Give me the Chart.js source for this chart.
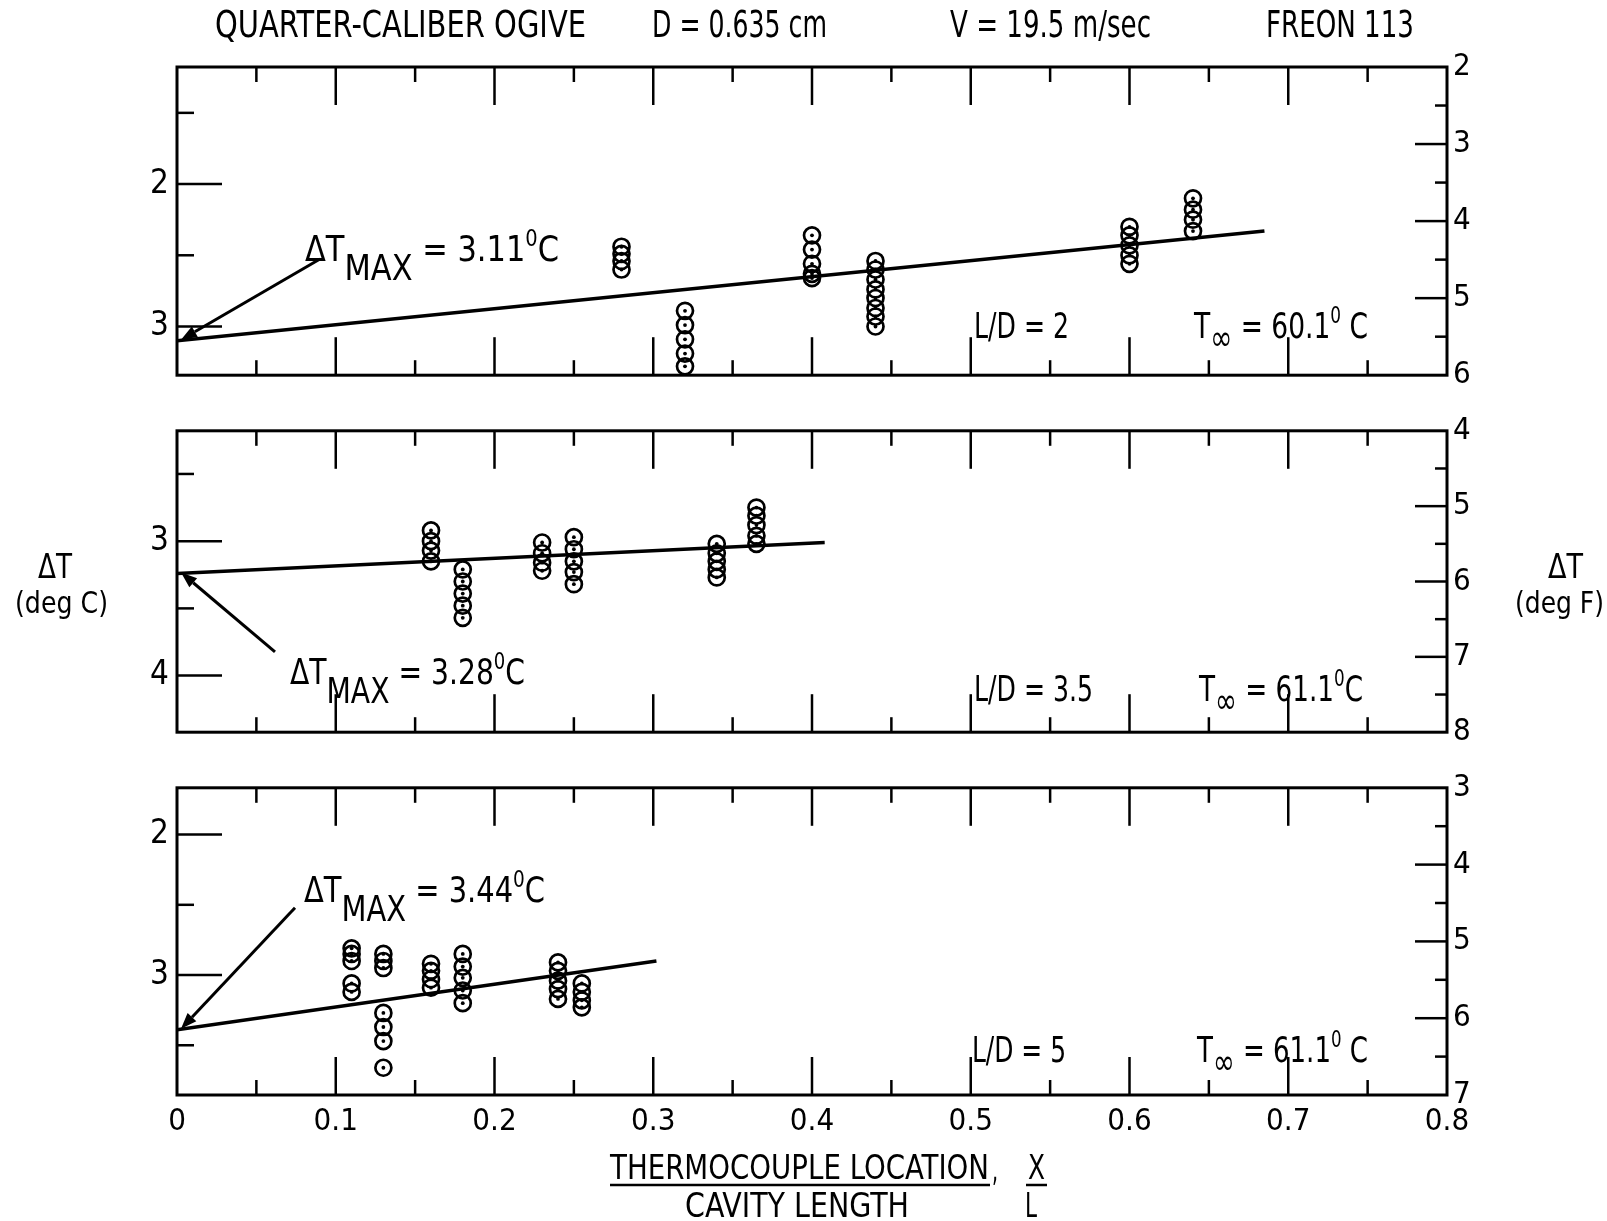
<!DOCTYPE html>
<html>
<head>
<meta charset="utf-8">
<script src="https://cdn.jsdelivr.net/npm/chart.js@4.4.0/dist/chart.umd.min.js"></script>
<style>
html, body { margin: 0; padding: 0; background: #fff; }
#wrap { position: relative; width: 1607px; height: 1221px; overflow: hidden; }
canvas { position: absolute; left: 0; }
</style>
</head>
<body>
<div id="wrap">
  <canvas id="p1" width="1607" height="403" style="top:0px"></canvas>
  <canvas id="p2" width="1607" height="357" style="top:403px"></canvas>
  <canvas id="p3" width="1607" height="461" style="top:760px"></canvas>
  <canvas id="overlay" width="1607" height="1221" style="top:0px;pointer-events:none"></canvas>
</div>
<script>
const FONT = '"Liberation Sans Narrow", "DejaVu Sans Condensed", "Arial Narrow", sans-serif';

// thermocouple location x/L and measured temperature depression (deg C)
const xLD2  = [0.28, 0.28, 0.28, 0.28,
               0.32, 0.32, 0.32, 0.32, 0.32,
               0.40, 0.40, 0.40, 0.40, 0.40,
               0.44, 0.44, 0.44, 0.44, 0.44, 0.44, 0.44, 0.44,
               0.60, 0.60, 0.60, 0.60, 0.60,
               0.64, 0.64, 0.64, 0.64];
const dtLD2 = [2.44, 2.49, 2.54, 2.60,
               2.89, 2.99, 3.09, 3.19, 3.28,
               2.36, 2.46, 2.56, 2.63, 2.66,
               2.54, 2.60, 2.67, 2.74, 2.80, 2.87, 2.93, 3.00,
               2.30, 2.36, 2.43, 2.50, 2.56,
               2.10, 2.18, 2.25, 2.33];
const fitXLD2 = [0, 0.685];
const fitYLD2 = [3.10, 2.33];

const xLD35  = [0.16, 0.16, 0.16, 0.16,
                0.18, 0.18, 0.18, 0.18, 0.18,
                0.23, 0.23, 0.23, 0.23,
                0.25, 0.25, 0.25, 0.25, 0.25,
                0.34, 0.34, 0.34, 0.34, 0.34,
                0.365, 0.365, 0.365, 0.365, 0.365];
const dtLD35 = [2.92, 3.00, 3.07, 3.15,
                3.21, 3.30, 3.39, 3.48, 3.57,
                3.01, 3.09, 3.16, 3.22,
                2.97, 3.06, 3.15, 3.23, 3.32,
                3.02, 3.09, 3.15, 3.21, 3.27,
                2.75, 2.81, 2.88, 2.96, 3.02];
const fitXLD35 = [0, 0.408];
const fitYLD35 = [3.24, 3.01];

const xLD5  = [0.11, 0.11, 0.11, 0.11, 0.11,
               0.13, 0.13, 0.13, 0.13, 0.13, 0.13, 0.13,
               0.16, 0.16, 0.16, 0.16,
               0.18, 0.18, 0.18, 0.18, 0.18,
               0.24, 0.24, 0.24, 0.24, 0.24,
               0.255, 0.255, 0.255, 0.255];
const dtLD5 = [2.81, 2.85, 2.90, 3.06, 3.12,
               2.85, 2.90, 2.95, 3.27, 3.37, 3.47, 3.66,
               2.92, 2.97, 3.03, 3.09,
               2.85, 2.94, 3.02, 3.11, 3.20,
               2.91, 2.97, 3.04, 3.10, 3.17,
               3.06, 3.12, 3.18, 3.23];
const fitXLD5 = [0, 0.302];
const fitYLD5 = [3.39, 2.90];

// axes
const xTickVals   = [0, 0.1, 0.2, 0.3, 0.4, 0.5, 0.6, 0.7, 0.8];
const xTickLabels = ['0', '0.1', '0.2', '0.3', '0.4', '0.5', '0.6', '0.7', '0.8'];
const cRangeLD2  = [1.178, 3.342], cTicksLD2  = [2, 3];
const fRangeLD2  = [2, 6],         fTicksLD2  = [2, 3, 4, 5, 6];
const cRangeLD35 = [2.179, 4.421], cTicksLD35 = [3, 4];
const fRangeLD35 = [4, 8],         fTicksLD35 = [4, 5, 6, 7, 8];
const cRangeLD5  = [1.667, 3.854], cTicksLD5  = [2, 3];
const fRangeLD5  = [3, 7],         fTicksLD5  = [3, 4, 5, 6, 7];

const pts = (xs, ys) => xs.map((x, i) => ({ x: x, y: ys[i] }));

// draws text pieces squeezed to a given width (the original lettering is very condensed)
function rich(ctx, parts, x, y, w, size) {
    let total = 0;
    parts.forEach(p => {
        ctx.font = Math.round((p.s || 1) * size) + 'px ' + FONT;
        p._w = ctx.measureText(p.t).width;
        total += p._w;
    });
    ctx.save();
    ctx.translate(x, y);
    ctx.scale(w / total, 1);
    ctx.fillStyle = '#000';
    ctx.textAlign = 'left';
    ctx.textBaseline = 'alphabetic';
    let cx = 0;
    parts.forEach(p => {
        ctx.font = Math.round((p.s || 1) * size) + 'px ' + FONT;
        ctx.fillText(p.t, cx, p.dy || 0);
        cx += p._w;
    });
    ctx.restore();
}

function seg(ctx, x1, y1, x2, y2) {
    ctx.beginPath(); ctx.moveTo(x1, y1); ctx.lineTo(x2, y2); ctx.stroke();
}

// frame plus inward tick marks on all four sides
const framePlugin = {
    id: 'frame',
    afterDraw(chart) {
        const { ctx, chartArea: a, scales } = chart;
        ctx.save();
        ctx.strokeStyle = '#000';
        ctx.lineWidth = 3;
        ctx.strokeRect(a.left, a.top, a.right - a.left, a.bottom - a.top);
        ctx.lineWidth = 2.5;
        for (let k = 1; k < 16; k++) {
            const px = scales.x.getPixelForValue(k * 0.05);
            const len = k % 2 === 0 ? 38 : 15;
            seg(ctx, px, a.top, px, a.top + len);
            seg(ctx, px, a.bottom, px, a.bottom - len);
        }
        const y = scales.y;
        for (let v = Math.ceil(y.min * 2) / 2; v < y.max; v += 0.5) {
            if (v <= y.min) continue;
            const py = y.getPixelForValue(v);
            seg(ctx, a.left, py, a.left + (Number.isInteger(v) ? 45 : 17), py);
        }
        const f = scales.yF;
        for (let v = Math.floor(f.min) + 0.5; v < f.max; v += 0.5) {
            const py = f.getPixelForValue(v);
            seg(ctx, a.right, py, a.right - (Number.isInteger(v) ? 32 : 12), py);
        }
        ctx.restore();
    }
};

// ΔT max arrow and panel labels
const notesPlugin = {
    id: 'notes',
    afterDraw(chart, args, o) {
        const { ctx, chartArea: a, scales } = chart;
        const first = chart.data.datasets[0].data[0];
        const tipX = scales.x.getPixelForValue(first.x) + 4;
        const tipY = scales.y.getPixelForValue(first.y) - 1;
        const tailX = a.left + o.arrow[0], tailY = a.top + o.arrow[1];
        ctx.save();
        ctx.strokeStyle = '#000';
        ctx.fillStyle = '#000';
        ctx.lineWidth = 3;
        const ang = Math.atan2(tipY - tailY, tipX - tailX);
        const hl = 16, hw = 6;
        const bx = tipX - hl * Math.cos(ang), by = tipY - hl * Math.sin(ang);
        seg(ctx, tailX, tailY, bx, by);
        ctx.beginPath();
        ctx.moveTo(tipX, tipY);
        ctx.lineTo(bx + hw * Math.sin(ang), by - hw * Math.cos(ang));
        ctx.lineTo(bx - hw * Math.sin(ang), by + hw * Math.cos(ang));
        ctx.closePath();
        ctx.fill();
        ctx.restore();
        o.texts.forEach(t => rich(ctx, t.parts, a.left + t.x, a.top + t.y, t.w, t.size));
    }
};

function makePanel(id, xs, ys, fitX, fitY, cRange, cTicks, fRange, fTicks, pad, showX, notes) {
    return new Chart(document.getElementById(id), {
        type: 'scatter',
        data: {
            datasets: [
                {
                    data: pts(fitX, fitY),
                    showLine: true,
                    borderColor: '#000',
                    borderWidth: 3.5,
                    pointRadius: 0,
                    tension: 0
                },
                {
                    data: pts(xs, ys),
                    pointRadius: 8,
                    pointBorderWidth: 2.7,
                    pointBorderColor: '#000',
                    pointBackgroundColor: 'rgba(0,0,0,0)'
                },
                {
                    data: pts(xs, ys),
                    pointRadius: 1.9,
                    pointBorderWidth: 0,
                    pointBackgroundColor: '#000'
                }
            ]
        },
        options: {
            responsive: false,
            animation: false,
            devicePixelRatio: 1,
            layout: { padding: { top: pad[0], bottom: pad[1], left: 0, right: 0 } },
            plugins: {
                legend: { display: false },
                tooltip: { enabled: false },
                notes: notes
            },
            scales: {
                x: {
                    type: 'linear', min: 0, max: 0.8,
                    display: showX,
                    grid: { display: false, drawTicks: false },
                    border: { display: false },
                    afterBuildTicks: s => { s.ticks = xTickVals.map(v => ({ value: v })); },
                    ticks: {
                        autoSkip: false, maxRotation: 0, padding: 8,
                        color: '#000', font: { family: FONT, size: 31 },
                        callback: (v, i) => xTickLabels[i]
                    },
                    afterFit: s => { if (showX) s.height = 126; }
                },
                y: {
                    type: 'linear', position: 'left', reverse: true,
                    min: cRange[0], max: cRange[1],
                    grid: { display: false, drawTicks: false },
                    border: { display: false },
                    afterBuildTicks: s => { s.ticks = cTicks.map(v => ({ value: v })); },
                    ticks: { padding: 8, color: '#000', font: { family: FONT, size: 33 }, callback: v => String(v) },
                    afterFit: s => { s.width = 177; }
                },
                yF: {
                    type: 'linear', position: 'right', reverse: true,
                    min: fRange[0], max: fRange[1],
                    grid: { display: false, drawTicks: false },
                    border: { display: false },
                    afterBuildTicks: s => { s.ticks = fTicks.map(v => ({ value: v })); },
                    ticks: { padding: 6, color: '#000', font: { family: FONT, size: 31 }, callback: v => String(v) },
                    afterFit: s => { s.width = 160; }
                }
            }
        },
        plugins: [framePlugin, notesPlugin]
    });
}

const dtMax = v => [{ t: 'ΔT' }, { t: 'MAX', dy: 19 }, { t: ' = ' + v }, { t: '0', dy: -15, s: 0.65 }, { t: 'C' }];
const tInf = (v, gap) => [{ t: 'T' }, { t: '∞', dy: 12 }, { t: ' = ' + v }, { t: '0', dy: -15, s: 0.65 }, { t: gap + 'C' }];

makePanel('p1', xLD2, dtLD2, fitXLD2, fitYLD2, cRangeLD2, cTicksLD2, fRangeLD2, fTicksLD2, [67, 20], false, {
    arrow: [143, 192],
    texts: [
        { parts: dtMax('3.11'), x: 128, y: 194, w: 254, size: 36 },
        { parts: [{ t: 'L/D = 2' }], x: 797, y: 271, w: 95, size: 36 },
        { parts: tInf('60.1', ' '), x: 1017, y: 271, w: 174, size: 36 }
    ]
});
makePanel('p2', xLD35, dtLD35, fitXLD35, fitYLD35, cRangeLD35, cTicksLD35, fRangeLD35, fTicksLD35, [20, 23], false, {
    arrow: [98, 221],
    texts: [
        { parts: dtMax('3.28'), x: 113, y: 253, w: 235, size: 36 },
        { parts: [{ t: 'L/D = 3.5' }], x: 797, y: 270, w: 119, size: 36 },
        { parts: tInf('61.1', ''), x: 1022, y: 270, w: 164, size: 36 }
    ]
});
makePanel('p3', xLD5, dtLD5, fitXLD5, fitYLD5, cRangeLD5, cTicksLD5, fRangeLD5, fTicksLD5, [20, 0], true, {
    arrow: [118, 120],
    texts: [
        { parts: dtMax('3.44'), x: 127, y: 114, w: 241, size: 36 },
        { parts: [{ t: 'L/D = 5' }], x: 795, y: 274, w: 94, size: 36 },
        { parts: tInf('61.1', ' '), x: 1020, y: 274, w: 171, size: 36 }
    ]
});

// page-level text: header, side titles, x-axis title
const oc = document.getElementById('overlay').getContext('2d');
rich(oc, [{ t: 'QUARTER-CALIBER OGIVE' }], 215, 37, 371, 37);
rich(oc, [{ t: 'D = 0.635 cm' }], 652, 37, 175, 37);
rich(oc, [{ t: 'V = 19.5 m/sec' }], 950, 37, 201, 37);
rich(oc, [{ t: 'FREON 113' }], 1266, 37, 148, 37);
rich(oc, [{ t: 'ΔT' }], 38, 578, 34, 33);
rich(oc, [{ t: '(deg C)' }], 15, 613, 93, 31);
rich(oc, [{ t: 'ΔT' }], 1548, 578, 35, 33);
rich(oc, [{ t: '(deg F)' }], 1515, 613, 89, 31);
rich(oc, [{ t: 'THERMOCOUPLE LOCATION' }], 610, 1179, 379, 34);
rich(oc, [{ t: ',' }], 992, 1181, 6, 34);
rich(oc, [{ t: 'X' }], 1028, 1179, 17, 34);
rich(oc, [{ t: 'CAVITY LENGTH' }], 685, 1217, 224, 34);
rich(oc, [{ t: 'L' }], 1025, 1217, 12, 34);
oc.strokeStyle = '#000';
oc.lineWidth = 2.5;
seg(oc, 610, 1185, 990, 1185);
seg(oc, 1026, 1185, 1047, 1185);
</script>
</body>
</html>
